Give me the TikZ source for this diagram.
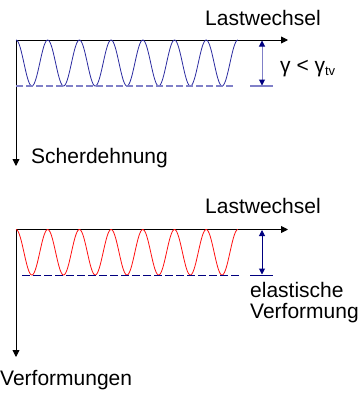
\documentclass[tikz,border=0pt]{standalone}
\usepackage{fontspec}
\setmainfont{Liberation Sans}
\usetikzlibrary{arrows.meta}
\definecolor{wblue}{HTML}{2A2AA0}
\definecolor{lav}{HTML}{8080C8}
\definecolor{navy}{HTML}{000080}
\definecolor{wred}{HTML}{FF1010}
\begin{document}
\begin{tikzpicture}[x=1pt,y=-1pt,
  axis/.style={line width=0.9pt,-{Triangle[length=7pt,width=7pt]}},
  lbl/.style={inner sep=0pt,font=\fontsize{21}{24}\selectfont},
  dimarrow/.style={line width=1pt,{Triangle[length=6pt,width=6pt,fill=navy,color=navy]}-{Triangle[length=6pt,width=6pt,fill=navy,color=navy]}},
  dashedline/.style={line width=1.2pt,dash pattern=on 7pt off 3pt}]
\useasboundingbox (0,0) rectangle (363,394);
% ---------- top diagram
\coordinate (o1) at (16,40);
\coordinate (x1) at (288,40);
\coordinate (y1) at (16,166);
\draw[axis] (o1) -- (x1);
\draw[axis] (o1) -- (y1);
\draw[wblue,line width=0.8pt] plot[domain=0:7,samples=300] ({16+31.7*\x},{63-23*cos(360*\x)});
\coordinate (d1a) at (16,86);
\coordinate (d1b) at (233,86);
\draw[lav,dashedline] (d1a) -- (d1b);
\coordinate (s1a) at (250,86);
\coordinate (s1b) at (273,86);
\draw[lav,line width=1.2pt] (s1a) -- (s1b);
\coordinate (a1t) at (262,40.5);
\coordinate (a1b) at (262,85.5);
\draw[lav,dimarrow] (a1t) -- (a1b);
\node[lbl,anchor=west] (g1) at (280,69) {γ < γ\raisebox{-0.25ex}{\fontsize{13}{15}\selectfont tv}};
\node[lbl,anchor=west] (lw1) at (205,18) {Lastwechsel};
\node[lbl,anchor=west] (sd) at (31,158) {Scherdehnung};
% ---------- bottom diagram
\coordinate (o2) at (16,229.5);
\coordinate (x2) at (288,229.5);
\coordinate (y2) at (16,357);
\draw[axis] (o2) -- (x2);
\draw[axis] (o2) -- (y2);
\draw[wred,line width=0.8pt] plot[domain=0:7,samples=300] ({16+31.7*\x},{252.25-22.75*cos(360*\x)});
\coordinate (d2a) at (22,275);
\coordinate (d2b) at (239,275);
\draw[navy,line width=0.9pt,dash pattern=on 8pt off 3pt] (d2a) -- (d2b);
\coordinate (s2a) at (250,275);
\coordinate (s2b) at (273,275);
\draw[navy,line width=1pt] (s2a) -- (s2b);
\coordinate (a2t) at (262,230);
\coordinate (a2b) at (262,274.5);
\draw[navy,dimarrow] (a2t) -- (a2b);
\node[lbl,anchor=west] (lw2) at (205,206) {Lastwechsel};
\node[lbl,anchor=west] (el) at (250,290) {elastische};
\node[lbl,anchor=west] (vf) at (250,313) {Verformung};
\node[lbl,anchor=west] (vfn) at (0,380) {Verformungen};
\end{tikzpicture}
\end{document}
